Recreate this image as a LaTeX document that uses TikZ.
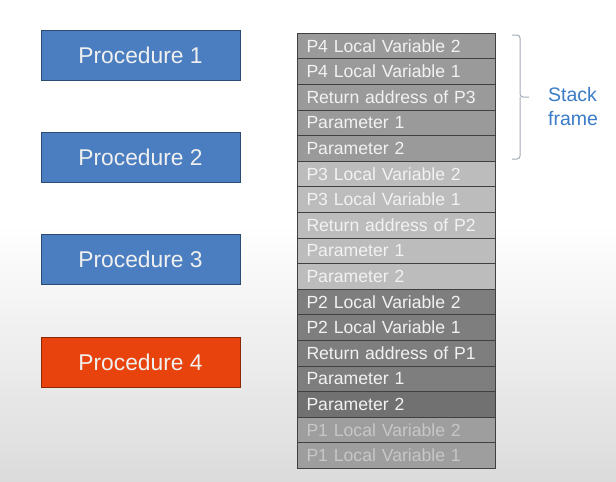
\documentclass[tikz,border=0pt]{standalone}
\usepackage{fontspec}
\setmainfont{Liberation Sans}
\usepackage{xcolor}
\usepackage{tikz}
\usetikzlibrary{positioning, calc}

\definecolor{procblue}{HTML}{4A7EC0}
\definecolor{procred}{HTML}{E8430C}
\definecolor{framegray}{HTML}{9A9A9A}
\definecolor{framelight}{HTML}{BCBCBC}
\definecolor{framedark}{HTML}{7E7E7E}
\definecolor{framefade}{HTML}{9E9E9E}
\definecolor{bracecol}{HTML}{A4ABB8}
\definecolor{labelblue}{HTML}{3A7CC8}

\begin{document}
\begin{tikzpicture}[x=1pt, y=1pt, node distance=0pt]
    \tikzset{
        proc/.style={rectangle, draw=procblue!60!black, fill=procblue, minimum width=199pt, minimum height=50pt, outer sep=0pt, text=white!94!black, font=\fontsize{22.8}{27}\selectfont},
        slot/.style={rectangle, draw=black!75, minimum width=198pt, minimum height=25.6pt, text width=179pt, inner xsep=9.5pt, inner ysep=0pt, align=left, outer sep=0pt, text=white!95!black, font=\fontsize{17.6}{20}\selectfont},
        bracket/.style={draw=bracecol, line width=1pt}
    }

    % background
    \fill[white] (0,0) rectangle (616,-482);
    \shade[top color=white, bottom color=black!14] (0,-225) rectangle (616,-482);
    \useasboundingbox (0,0) rectangle (616,-482);

    % procedures
    \node (Proc1) [proc, anchor=north west] at (41,-30) {Procedure 1};
    \node (Proc2) [proc, anchor=north west] at (41,-132) {Procedure 2};
    \node (Proc3) [proc, anchor=north west] at (41,-234) {Procedure 3};
    \node (Proc4) [proc, anchor=north west, fill=procred, draw=procred!60!black] at (41,-337) {Procedure 4};

    % stack
    \node (S1) [slot, fill=framegray, anchor=north west] at (297,-33) {P4 Local Variable 2};
    \node (S2) [slot, fill=framegray, below=of S1] {P4 Local Variable 1};
    \node (S3) [slot, fill=framegray, below=of S2] {Return address of P3};
    \node (S4) [slot, fill=framegray, below=of S3] {Parameter 1};
    \node (S5) [slot, fill=framegray, below=of S4] {Parameter 2};

    \node (S6) [slot, fill=framelight, below=of S5] {P3 Local Variable 2};
    \node (S7) [slot, fill=framelight, below=of S6] {P3 Local Variable 1};
    \node (S8) [slot, fill=framelight, below=of S7] {Return address of P2};
    \node (S9) [slot, fill=framelight, below=of S8] {Parameter 1};
    \node (S10) [slot, fill=framelight, below=of S9] {Parameter 2};

    \node (S11) [slot, fill=framedark, below=of S10] {P2 Local Variable 2};
    \node (S12) [slot, fill=framedark, below=of S11] {P2 Local Variable 1};
    \node (S13) [slot, fill=framedark, below=of S12] {Return address of P1};
    \node (S14) [slot, fill=framedark, below=of S13] {Parameter 1};
    \node (S15) [slot, fill=framedark!90!black, below=of S14] {Parameter 2};

    \node (S16) [slot, fill=framefade, text=black!22, below=of S15] {P1 Local Variable 2};
    \node (S17) [slot, fill=framefade, text=black!22, below=of S16] {P1 Local Variable 1};

    % stack frame brace
    \coordinate (BraceTop) at (512,-35);
    \coordinate (BraceMid) at (529,-97);
    \coordinate (BraceBot) at (512,-159);
    \draw[bracket, rounded corners=3pt] (BraceTop) -| ($(BraceMid)+(-9,0)$) -- (BraceMid);
    \draw[bracket, rounded corners=3pt] (BraceBot) -| ($(BraceMid)+(-9,0)$);

    \node (StackLbl) [anchor=west, align=left, text=labelblue, font=\fontsize{19.5}{24}\selectfont, inner sep=0pt] at (548,-107) {Stack\\frame};
\end{tikzpicture}
\end{document}
